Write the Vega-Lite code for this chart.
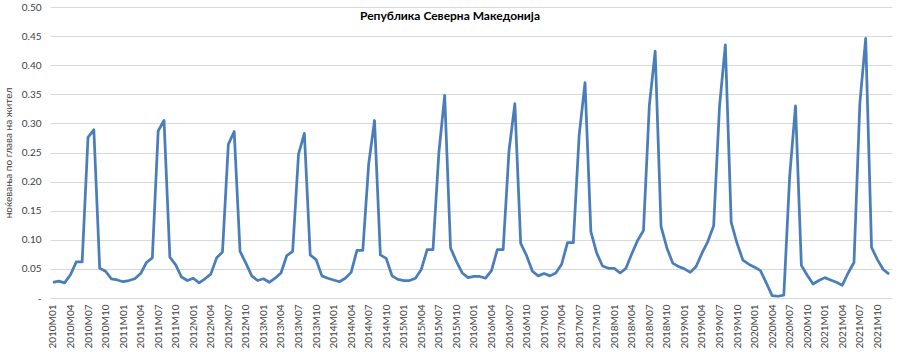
{
  "$schema": "https://vega.github.io/schema/vega-lite/v6.json",
  "autosize": "none",
  "width": 842,
  "height": 291,
  "padding": {"left": 50, "top": 7, "right": 8, "bottom": 54},
  "background": "white",
  "config": {"view": {"stroke": null}, "font": "Lato"},
  "title": {"text": "Република Северна Македонија", "fontSize": 12, "fontWeight": "bold", "font": "Lato", "color": "#000000", "anchor": "middle", "baseline": "middle", "offset": 0, "dx": -21, "dy": 26},
  "data": {"values": [
    {"m":"2010M01","v":0.027},{"m":"2010M02","v":0.029},{"m":"2010M03","v":0.026},{"m":"2010M04","v":0.040},{"m":"2010M05","v":0.062},{"m":"2010M06","v":0.062},{"m":"2010M07","v":0.276},{"m":"2010M08","v":0.289},{"m":"2010M09","v":0.051},{"m":"2010M10","v":0.046},{"m":"2010M11","v":0.033},{"m":"2010M12","v":0.031},
    {"m":"2011M01","v":0.028},{"m":"2011M02","v":0.030},{"m":"2011M03","v":0.033},{"m":"2011M04","v":0.042},{"m":"2011M05","v":0.061},{"m":"2011M06","v":0.069},{"m":"2011M07","v":0.287},{"m":"2011M08","v":0.305},{"m":"2011M09","v":0.070},{"m":"2011M10","v":0.057},{"m":"2011M11","v":0.036},{"m":"2011M12","v":0.030},
    {"m":"2012M01","v":0.034},{"m":"2012M02","v":0.026},{"m":"2012M03","v":0.033},{"m":"2012M04","v":0.041},{"m":"2012M05","v":0.069},{"m":"2012M06","v":0.079},{"m":"2012M07","v":0.264},{"m":"2012M08","v":0.286},{"m":"2012M09","v":0.080},{"m":"2012M10","v":0.060},{"m":"2012M11","v":0.038},{"m":"2012M12","v":0.030},
    {"m":"2013M01","v":0.033},{"m":"2013M02","v":0.027},{"m":"2013M03","v":0.034},{"m":"2013M04","v":0.043},{"m":"2013M05","v":0.073},{"m":"2013M06","v":0.080},{"m":"2013M07","v":0.247},{"m":"2013M08","v":0.283},{"m":"2013M09","v":0.074},{"m":"2013M10","v":0.066},{"m":"2013M11","v":0.038},{"m":"2013M12","v":0.034},
    {"m":"2014M01","v":0.031},{"m":"2014M02","v":0.028},{"m":"2014M03","v":0.034},{"m":"2014M04","v":0.044},{"m":"2014M05","v":0.082},{"m":"2014M06","v":0.082},{"m":"2014M07","v":0.230},{"m":"2014M08","v":0.305},{"m":"2014M09","v":0.074},{"m":"2014M10","v":0.068},{"m":"2014M11","v":0.038},{"m":"2014M12","v":0.032},
    {"m":"2015M01","v":0.030},{"m":"2015M02","v":0.030},{"m":"2015M03","v":0.034},{"m":"2015M04","v":0.049},{"m":"2015M05","v":0.083},{"m":"2015M06","v":0.083},{"m":"2015M07","v":0.249},{"m":"2015M08","v":0.348},{"m":"2015M09","v":0.086},{"m":"2015M10","v":0.063},{"m":"2015M11","v":0.043},{"m":"2015M12","v":0.035},
    {"m":"2016M01","v":0.037},{"m":"2016M02","v":0.037},{"m":"2016M03","v":0.034},{"m":"2016M04","v":0.047},{"m":"2016M05","v":0.083},{"m":"2016M06","v":0.083},{"m":"2016M07","v":0.253},{"m":"2016M08","v":0.334},{"m":"2016M09","v":0.094},{"m":"2016M10","v":0.073},{"m":"2016M11","v":0.046},{"m":"2016M12","v":0.038},
    {"m":"2017M01","v":0.042},{"m":"2017M02","v":0.038},{"m":"2017M03","v":0.043},{"m":"2017M04","v":0.058},{"m":"2017M05","v":0.095},{"m":"2017M06","v":0.095},{"m":"2017M07","v":0.280},{"m":"2017M08","v":0.370},{"m":"2017M09","v":0.114},{"m":"2017M10","v":0.077},{"m":"2017M11","v":0.055},{"m":"2017M12","v":0.051},
    {"m":"2018M01","v":0.051},{"m":"2018M02","v":0.043},{"m":"2018M03","v":0.051},{"m":"2018M04","v":0.076},{"m":"2018M05","v":0.099},{"m":"2018M06","v":0.116},{"m":"2018M07","v":0.331},{"m":"2018M08","v":0.424},{"m":"2018M09","v":0.123},{"m":"2018M10","v":0.086},{"m":"2018M11","v":0.060},{"m":"2018M12","v":0.054},
    {"m":"2019M01","v":0.050},{"m":"2019M02","v":0.044},{"m":"2019M03","v":0.054},{"m":"2019M04","v":0.077},{"m":"2019M05","v":0.097},{"m":"2019M06","v":0.124},{"m":"2019M07","v":0.329},{"m":"2019M08","v":0.435},{"m":"2019M09","v":0.130},{"m":"2019M10","v":0.094},{"m":"2019M11","v":0.065},{"m":"2019M12","v":0.058},
    {"m":"2020M01","v":0.053},{"m":"2020M02","v":0.047},{"m":"2020M03","v":0.026},{"m":"2020M04","v":0.004},{"m":"2020M05","v":0.003},{"m":"2020M06","v":0.005},{"m":"2020M07","v":0.209},{"m":"2020M08","v":0.330},{"m":"2020M09","v":0.056},{"m":"2020M10","v":0.039},{"m":"2020M11","v":0.024},{"m":"2020M12","v":0.030},
    {"m":"2021M01","v":0.035},{"m":"2021M02","v":0.031},{"m":"2021M03","v":0.027},{"m":"2021M04","v":0.022},{"m":"2021M05","v":0.043},{"m":"2021M06","v":0.061},{"m":"2021M07","v":0.334},{"m":"2021M08","v":0.446},{"m":"2021M09","v":0.087},{"m":"2021M10","v":0.066},{"m":"2021M11","v":0.049},{"m":"2021M12","v":0.041}
  ]},
  "mark": {"type": "line", "color": "#4A7EBB", "strokeWidth": 2.75, "strokeJoin": "round"},
  "encoding": {
    "x": {
      "field": "m", "type": "ordinal", "sort": null,
      "scale": {"type": "point", "padding": 0.5},
      "axis": {
        "title": null,
        "values": ["2010M01","2010M04","2010M07","2010M10","2011M01","2011M04","2011M07","2011M10","2012M01","2012M04","2012M07","2012M10","2013M01","2013M04","2013M07","2013M10","2014M01","2014M04","2014M07","2014M10","2015M01","2015M04","2015M07","2015M10","2016M01","2016M04","2016M07","2016M10","2017M01","2017M04","2017M07","2017M10","2018M01","2018M04","2018M07","2018M10","2019M01","2019M04","2019M07","2019M10","2020M01","2020M04","2020M07","2020M10","2021M01","2021M04","2021M07","2021M10"],
        "labelAngle": -90, "labelAlign": "right", "labelBaseline": "middle",
        "labelFontSize": 10, "labelColor": "#404040", "labelPadding": 6,
        "ticks": false, "domain": false, "grid": false
      }
    },
    "y": {
      "field": "v", "type": "quantitative",
      "scale": {"domain": [0, 0.5], "nice": false},
      "axis": {
        "title": "ноќевања по глава на жител",
        "titleFontSize": 10, "titleFontWeight": "normal", "titleColor": "#404040", "titlePadding": 8,
        "values": [0, 0.05, 0.1, 0.15, 0.2, 0.25, 0.3, 0.35, 0.4, 0.45, 0.5],
        "labelExpr": "datum.value == 0 ? '-' : format(datum.value, '.2f')",
        "labelFontSize": 10, "labelColor": "#404040", "labelPadding": 9,
        "ticks": false, "domain": false,
        "grid": true, "gridColor": "#D9D9D9", "gridWidth": 1
      }
    }
  }
}
